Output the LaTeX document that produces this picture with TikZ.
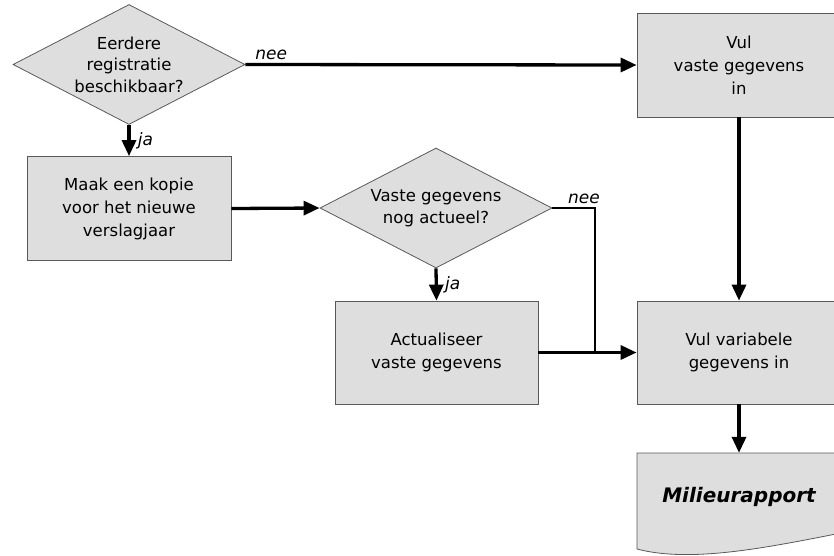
\documentclass[tikz,border=0pt]{standalone}
\usepackage{fontspec}
\setmainfont{DejaVu Sans}
\usetikzlibrary{shapes.geometric,arrows.meta}
\begin{document}
\begin{tikzpicture}[x=1pt,y=-1pt,
    box/.style={draw=black!65,fill=black!13,line width=0.8pt,minimum width=204pt,
      minimum height=104pt,align=center,font=\fontsize{16.5}{23}\selectfont},
    keuze/.style={diamond,draw=black!65,fill=black!13,line width=0.8pt,inner sep=0pt,
      aspect=1.93,minimum width=232pt,minimum height=120pt,align=center,
      font=\fontsize{16.5}{21.5}\selectfont},
    pijl/.style={line width=3.3pt,-{Triangle[length=16pt,width=14pt]}},
    lbl/.style={font=\fontsize{17}{18}\selectfont\itshape}]
    \clip (0,0) rectangle (834,555);
    % beslissingen en stappen
    \node[keuze] (eerder) at (129,64.5) {Eerdere\\registratie\\beschikbaar?};
    \node[box] (kopie) at (129,208.5) {Maak een kopie\\voor het nieuwe\\verslagjaar};
    \node[keuze] (actueel) at (436,208) {Vaste gegevens\\nog actueel?};
    \node[box,minimum width=203pt,minimum height=103pt] (actualiseer) at (436.5,352.5) {Actualiseer\\vaste gegevens};
    \node[box] (vulvast) at (739,65) {Vul\\vaste gegevens\\in};
    \node[box,minimum height=103pt] (vulvar) at (739,352.5) {Vul variabele\\gegevens in};
    % document
    \filldraw[draw=black!65,fill=black!13,line width=0.8pt] (637,453) -- (841,453) -- (841,533)
      .. controls (765,548) and (690,563) .. (637,549) -- cycle;
    \node[minimum width=204pt,minimum height=88pt,font=\fontsize{20}{22}\selectfont\bfseries\itshape]
      (rapport) at (739,497) {Milieurapport};
    % verbindingen
    \coordinate (samen) at (595,352.5);
    \draw[pijl] (eerder.east) -- node[lbl,above,pos=0.066] {nee} (vulvast.west);
    \draw[pijl] (eerder.south) -- node[lbl,right,xshift=4pt] {ja} (kopie.north);
    \draw[pijl] (kopie.east) -- (actueel.west);
    \draw[pijl] (actueel.south) -- node[lbl,right,xshift=4pt] {ja} (actualiseer.north);
    \draw[line width=2.6pt] (actueel.east) -| node[lbl,above,pos=0.37] {nee} (samen);
    \draw[pijl] (actualiseer.east) -- (vulvar.west);
    \draw[pijl] (vulvast.south) -- (vulvar.north);
    \draw[pijl] (vulvar.south) -- (rapport.north);
  \end{tikzpicture}
\end{document}
